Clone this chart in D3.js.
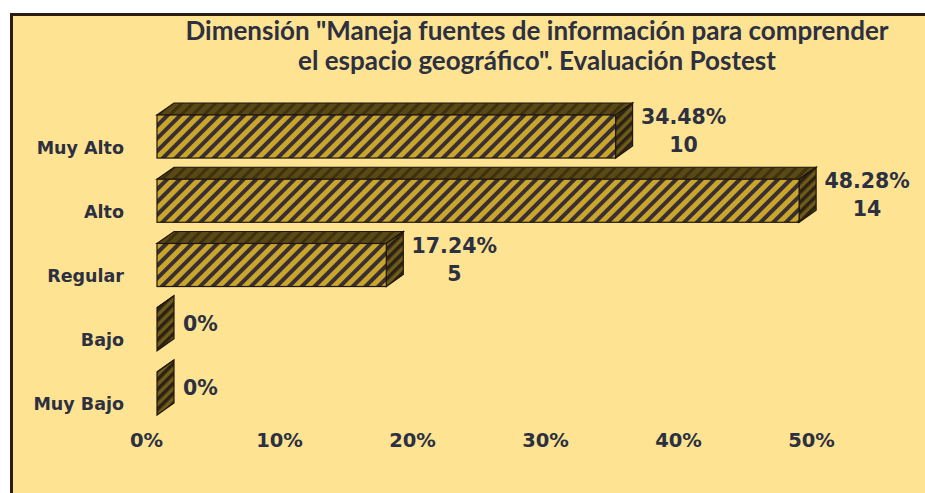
<!DOCTYPE html>
<html>
<head>
<meta charset="utf-8">
<script src="https://cdn.jsdelivr.net/npm/d3@7"></script>
<style>
  body { margin: 0; background: #fff; }
  svg { display: block; }
</style>
</head>
<body>
<div id="chart"></div>
<script>
// data
const categories = ["Muy Alto", "Alto", "Regular", "Bajo", "Muy Bajo"];
const percents = [34.48, 48.28, 17.24, 0, 0];
const counts = [10, 14, 5, 0, 0];
const tickValues = [0, 10, 20, 30, 40, 50];
const titleLines = [
    "Dimensión \"Maneja fuentes de información para comprender",
    "el espacio geográfico\". Evaluación Postest"
];

const width = 925, height = 493;
const textColor = "#2c3040";

const svg = d3.select("#chart").append("svg")
    .attr("width", width)
    .attr("height", height);

// background panel with the dark frame on top / left
svg.append("rect")
    .attr("x", 11).attr("y", 14)
    .attr("width", width - 11).attr("height", height - 14)
    .attr("fill", "#fde392");
svg.append("path")
    .attr("d", `M${width},14.5 H11.5 V${height}`)
    .attr("fill", "none")
    .attr("stroke", "#2a1d12")
    .attr("stroke-width", 3);

// hatch patterns
const defs = svg.append("defs");
function hatch(id, bg, fg, size, w) {
    const p = defs.append("pattern")
        .attr("id", id)
        .attr("patternUnits", "userSpaceOnUse")
        .attr("width", size).attr("height", size)
        .attr("patternTransform", "rotate(45)");
    p.append("rect").attr("width", size).attr("height", size).attr("fill", bg);
    p.append("rect").attr("width", w).attr("height", size).attr("fill", fg);
}
hatch("front", "#c8a52b", "#3a2e33", 9, 4);
hatch("side", "#6f5a18", "#2b2216", 7, 3.5);
hatch("top", "#5a4914", "#3e3110", 8, 3);

// scales
const x = d3.scaleLinear().domain([0, 50]).range([157, 822]);
const y = d3.scaleBand().domain(categories)
    .range([104.4, 425.6])
    .paddingInner(0.33)
    .paddingOuter(0.165);

// depth of the 3D bars
const depthX = 17, depthY = -12;

const bars = svg.append("g").selectAll("g.bar")
    .data(categories.map((c, i) => ({ c, p: percents[i], n: counts[i] })))
    .join("g")
    .attr("class", "bar");

bars.each(function(d) {
    const g = d3.select(this);
    const x0 = x(0), x1 = x(d.p);
    const y0 = y(d.c), y1 = y(d.c) + y.bandwidth();

    // top face
    g.append("path")
        .attr("d", `M${x0},${y0} L${x1},${y0} L${x1 + depthX},${y0 + depthY} L${x0 + depthX},${y0 + depthY} Z`)
        .attr("fill", "url(#top)")
        .attr("stroke", "#1e160c").attr("stroke-width", 1.2);
    // side face
    g.append("path")
        .attr("d", `M${x1},${y0} L${x1 + depthX},${y0 + depthY} L${x1 + depthX},${y1 + depthY} L${x1},${y1} Z`)
        .attr("fill", "url(#side)")
        .attr("stroke", "#1e160c").attr("stroke-width", 1.2);
    // front face
    if (d.p > 0) {
        g.append("rect")
            .attr("x", x0).attr("y", y0)
            .attr("width", x1 - x0).attr("height", y1 - y0)
            .attr("fill", "url(#front)")
            .attr("stroke", "#1e160c").attr("stroke-width", 1.2);
    }

    // data labels
    const lx = x1 + depthX + 8;
    const cy = (y0 + depthY + y1) / 2;
    const lbl = g.append("text")
        .attr("font-family", "DejaVu Sans")
        .attr("font-weight", "bold")
        .attr("font-size", 20.5)
        .attr("fill", textColor);
    if (d.p > 0) {
        const txt = d.p.toFixed(2) + "%";
        lbl.attr("text-anchor", "middle");
        lbl.append("tspan").attr("x", lx + 43).attr("y", cy - 6.5).text(txt);
        lbl.append("tspan").attr("x", lx + 43).attr("y", cy + 21.5).text(d.n);
    } else {
        lbl.attr("x", lx + 1).attr("y", cy + 8).text("0%");
    }
});

// category labels
svg.append("g").selectAll("text")
    .data(categories)
    .join("text")
    .attr("x", 124)
    .attr("y", d => y(d) + y.bandwidth() / 2 + 17)
    .attr("text-anchor", "end")
    .attr("font-family", "DejaVu Sans")
    .attr("font-weight", "bold")
    .attr("font-size", 17.5)
    .attr("fill", textColor)
    .text(d => d);

// x axis (labels only)
const axis = svg.append("g")
    .attr("transform", "translate(-11,430)")
    .call(d3.axisBottom(x).tickValues(tickValues).tickFormat(d => d + "%").tickSize(0));
axis.select(".domain").remove();
axis.selectAll("text")
    .attr("font-family", "DejaVu Sans")
    .attr("font-weight", "bold")
    .attr("font-size", 19.5)
    .attr("fill", textColor);

// title
svg.append("g").selectAll("text")
    .data(titleLines)
    .join("text")
    .attr("x", 537)
    .attr("y", (d, i) => 40 + i * 30)
    .attr("text-anchor", "middle")
    .attr("font-family", "Lato")
    .attr("font-weight", "bold")
    .attr("font-size", 26)
    .attr("fill", textColor)
    .text(d => d);
</script>
</body>
</html>
